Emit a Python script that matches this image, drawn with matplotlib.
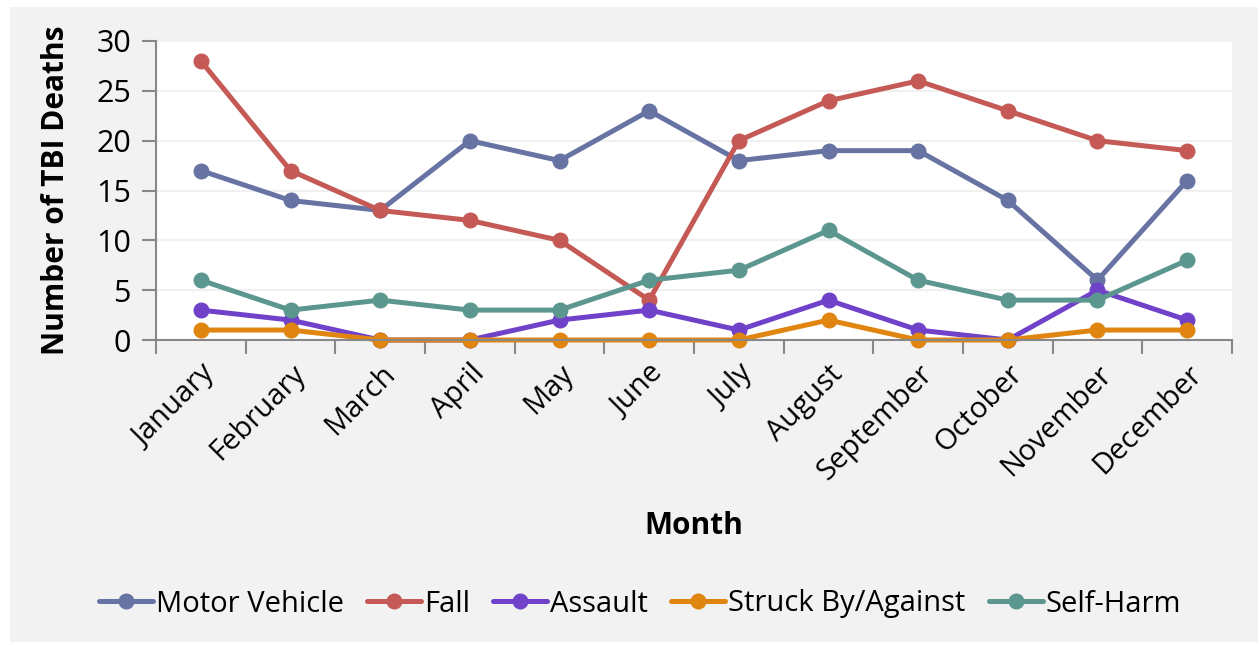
import matplotlib
matplotlib.use('Agg')
import matplotlib.pyplot as plt
from matplotlib.patches import Rectangle

plt.rcParams['font.family'] = ['Open Sans', 'DejaVu Sans']

months = ['January', 'February', 'March', 'April', 'May', 'June', 'July',
          'August', 'September', 'October', 'November', 'December']
motor_vehicle = [17, 14, 13, 20, 18, 23, 18, 19, 19, 14, 6, 16]
fall = [28, 17, 13, 12, 10, 4, 20, 24, 26, 23, 20, 19]
assault = [3, 2, 0, 0, 2, 3, 1, 4, 1, 0, 5, 2]
struck = [1, 1, 0, 0, 0, 0, 0, 2, 0, 0, 1, 1]
self_harm = [6, 3, 4, 3, 3, 6, 7, 11, 6, 4, 4, 8]

series = [('Motor Vehicle', motor_vehicle, '#6673a3'),
          ('Fall', fall, '#c45956'),
          ('Assault', assault, '#6f42c9'),
          ('Struck By/Against', struck, '#e0850f'),
          ('Self-Harm', self_harm, '#5b968f')]

W, H = 1259, 645
fig = plt.figure(figsize=(W / 100, H / 100), dpi=100, facecolor='white')
fig.patches.append(Rectangle((10 / W, 3 / H), 1248 / W, 635 / H,
                             transform=fig.transFigure, facecolor='#f2f2f2',
                             edgecolor='none', zorder=-1))

ax = fig.add_axes([156 / W, (H - 340) / H, 1076 / W, 299 / H])
ax.set_facecolor('white')

x = list(range(len(months)))
for name, vals, col in series:
    ax.plot(x, vals, '-o', color=col, lw=3.6, ms=10.5, label=name,
            solid_capstyle='round', clip_on=False)

ax.set_xlim(-0.5, 11.5)
ax.set_ylim(0, 30)
ax.set_yticks(range(0, 31, 5))
ax.grid(axis='y', color='#f0f0f0', lw=1.5)
ax.set_axisbelow(True)

ax.set_xticks(x)
ax.set_xticklabels(months, rotation=45, ha='right', rotation_mode='anchor')
ax.set_xticks([i - 0.5 for i in range(13)], minor=True)
ax.tick_params(axis='x', which='major', length=0, pad=14, labelsize=21)
ax.tick_params(axis='x', which='minor', length=10, width=1.5, color='#888888')
ax.tick_params(axis='y', length=10, width=1.5, color='#888888', labelsize=22, pad=8)

for s in ['top', 'right']:
    ax.spines[s].set_visible(False)
for s in ['left', 'bottom']:
    ax.spines[s].set_color('#888888')
    ax.spines[s].set_linewidth(1.5)

ax.set_ylabel('Number of TBI Deaths', fontsize=21.5, fontweight='bold', labelpad=18)
ax.set_xlabel('Month', fontsize=21.5, fontweight='bold', labelpad=18)

fig.legend(loc='center', bbox_to_anchor=(640 / W, (H - 604) / H), ncol=5,
           frameon=False, fontsize=21, handlelength=1.85, handletextpad=0.1,
           columnspacing=0.8, markerscale=1.0)

fig.savefig('out.png', dpi=100)
